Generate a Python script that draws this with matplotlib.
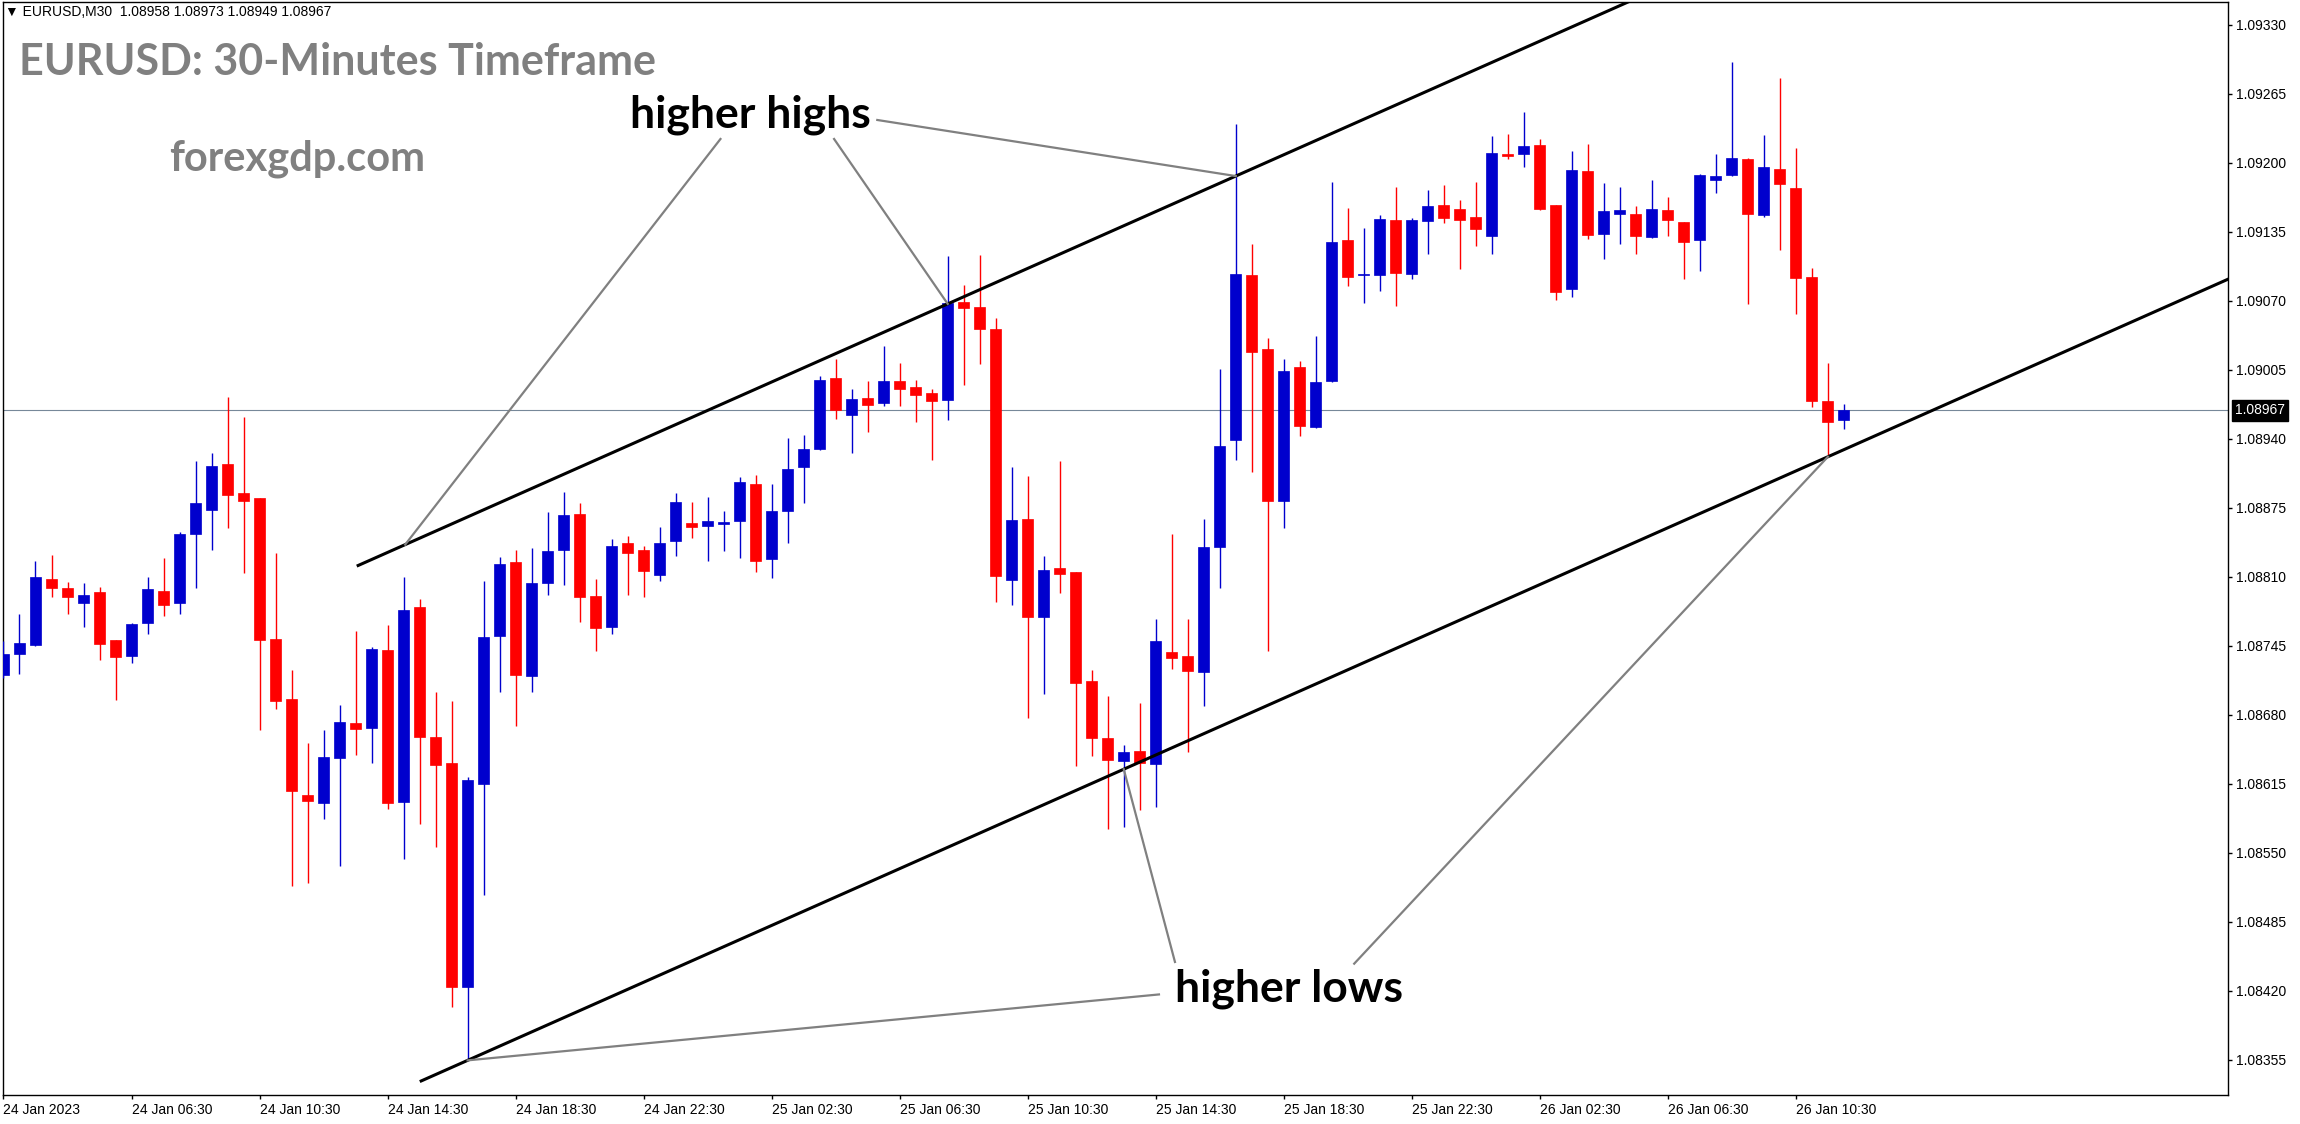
import numpy as np
import matplotlib
matplotlib.use("Agg")
import matplotlib.pyplot as plt

plt.rcParams['font.family'] = ['Liberation Sans', 'DejaVu Sans']

# EURUSD M30 candles, 24 Jan 02:30 .. 26 Jan 12:00
opens = [1.08718, 1.08737, 1.08746, 1.08808, 1.08800, 1.08785, 1.08796, 1.08751, 1.08736, 1.08767,
         1.08797, 1.08785, 1.08850, 1.08873, 1.08916, 1.08889, 1.08884, 1.08752, 1.08695, 1.08605,
         1.08597, 1.08639, 1.08672, 1.08668, 1.08741, 1.08598, 1.08782, 1.08659, 1.08635, 1.08424,
         1.08615, 1.08754, 1.08824, 1.08717, 1.08804, 1.08835, 1.08869, 1.08792, 1.08763, 1.08842,
         1.08835, 1.08812, 1.08844, 1.08861, 1.08858, 1.08860, 1.08863, 1.08898, 1.08827, 1.08872,
         1.08914, 1.08931, 1.08997, 1.08963, 1.08979, 1.08974, 1.08995, 1.08989, 1.08983, 1.08977,
         1.09069, 1.09064, 1.09044, 1.08807, 1.08865, 1.08772, 1.08818, 1.08815, 1.08712, 1.08658,
         1.08637, 1.08646, 1.08634, 1.08739, 1.08736, 1.08720, 1.08838, 1.08939, 1.09094, 1.09025,
         1.08882, 1.09008, 1.08951, 1.08995, 1.09127, 1.09094, 1.09094, 1.09146, 1.09095, 1.09145,
         1.09160, 1.09157, 1.09149, 1.09131, 1.09208, 1.09208, 1.09217, 1.09160, 1.09081, 1.09192,
         1.09133, 1.09152, 1.09152, 1.09130, 1.09156, 1.09144, 1.09127, 1.09184, 1.09189, 1.09204,
         1.09151, 1.09194, 1.09176, 1.09093, 1.08976, 1.08958]
highs = [1.08750, 1.08775, 1.08825, 1.08831, 1.08805, 1.08804, 1.08801, 1.08751, 1.08767, 1.08810,
         1.08828, 1.08852, 1.08919, 1.08927, 1.08980, 1.08961, 1.08884, 1.08833, 1.08722, 1.08654,
         1.08666, 1.08689, 1.08759, 1.08744, 1.08765, 1.08810, 1.08789, 1.08702, 1.08693, 1.08622,
         1.08806, 1.08829, 1.08835, 1.08837, 1.08871, 1.08890, 1.08880, 1.08808, 1.08846, 1.08849,
         1.08839, 1.08857, 1.08889, 1.08881, 1.08885, 1.08872, 1.08904, 1.08906, 1.08898, 1.08941,
         1.08944, 1.08999, 1.09015, 1.08987, 1.08995, 1.09028, 1.09012, 1.08996, 1.08987, 1.09112,
         1.09085, 1.09113, 1.09054, 1.08914, 1.08905, 1.08830, 1.08919, 1.08815, 1.08722, 1.08698,
         1.08652, 1.08691, 1.08770, 1.08850, 1.08770, 1.08865, 1.09006, 1.09237, 1.09124, 1.09035,
         1.09015, 1.09013, 1.09037, 1.09182, 1.09158, 1.09139, 1.09151, 1.09177, 1.09148, 1.09175,
         1.09179, 1.09165, 1.09182, 1.09225, 1.09227, 1.09248, 1.09223, 1.09160, 1.09211, 1.09218,
         1.09181, 1.09177, 1.09159, 1.09184, 1.09168, 1.09144, 1.09190, 1.09208, 1.09295, 1.09205,
         1.09226, 1.09280, 1.09214, 1.09101, 1.09012, 1.08973]
lows = [1.08715, 1.08719, 1.08745, 1.08791, 1.08775, 1.08763, 1.08732, 1.08694, 1.08729, 1.08756,
        1.08773, 1.08775, 1.08800, 1.08835, 1.08856, 1.08814, 1.08666, 1.08686, 1.08519, 1.08522,
        1.08582, 1.08538, 1.08642, 1.08635, 1.08591, 1.08544, 1.08577, 1.08556, 1.08405, 1.08355,
        1.08510, 1.08702, 1.08670, 1.08702, 1.08793, 1.08802, 1.08768, 1.08740, 1.08756, 1.08793,
        1.08791, 1.08806, 1.08830, 1.08847, 1.08825, 1.08834, 1.08828, 1.08815, 1.08809, 1.08842,
        1.08880, 1.08930, 1.08959, 1.08927, 1.08947, 1.08971, 1.08971, 1.08956, 1.08920, 1.08958,
        1.08991, 1.09011, 1.08786, 1.08784, 1.08677, 1.08700, 1.08795, 1.08632, 1.08641, 1.08573,
        1.08574, 1.08590, 1.08593, 1.08723, 1.08645, 1.08688, 1.08800, 1.08920, 1.08909, 1.08740,
        1.08856, 1.08943, 1.08950, 1.08994, 1.09084, 1.09068, 1.09079, 1.09065, 1.09091, 1.09114,
        1.09143, 1.09100, 1.09122, 1.09114, 1.09204, 1.09196, 1.09156, 1.09071, 1.09074, 1.09128,
        1.09110, 1.09124, 1.09114, 1.09129, 1.09131, 1.09091, 1.09098, 1.09172, 1.09188, 1.09067,
        1.09149, 1.09118, 1.09058, 1.08970, 1.08925, 1.08949]
closes = [1.08737, 1.08748, 1.08810, 1.08800, 1.08791, 1.08793, 1.08747, 1.08735, 1.08766, 1.08799,
          1.08784, 1.08850, 1.08880, 1.08915, 1.08887, 1.08882, 1.08751, 1.08693, 1.08608, 1.08599,
          1.08640, 1.08673, 1.08667, 1.08742, 1.08597, 1.08779, 1.08659, 1.08633, 1.08424, 1.08619,
          1.08753, 1.08822, 1.08718, 1.08804, 1.08834, 1.08868, 1.08791, 1.08762, 1.08839, 1.08833,
          1.08816, 1.08842, 1.08881, 1.08857, 1.08863, 1.08862, 1.08899, 1.08825, 1.08872, 1.08912,
          1.08931, 1.08996, 1.08967, 1.08978, 1.08972, 1.08995, 1.08987, 1.08981, 1.08976, 1.09068,
          1.09063, 1.09044, 1.08811, 1.08864, 1.08772, 1.08817, 1.08813, 1.08710, 1.08658, 1.08638,
          1.08645, 1.08635, 1.08750, 1.08734, 1.08721, 1.08838, 1.08933, 1.09095, 1.09022, 1.08882,
          1.09004, 1.08952, 1.08994, 1.09126, 1.09093, 1.09095, 1.09147, 1.09096, 1.09146, 1.09159,
          1.09148, 1.09146, 1.09138, 1.09209, 1.09207, 1.09216, 1.09157, 1.09078, 1.09193, 1.09132,
          1.09155, 1.09156, 1.09131, 1.09157, 1.09146, 1.09126, 1.09189, 1.09188, 1.09205, 1.09152,
          1.09196, 1.09180, 1.09092, 1.08976, 1.08956, 1.08967]

time_labels = ["24 Jan 2023", "24 Jan 06:30", "24 Jan 10:30", "24 Jan 14:30", "24 Jan 18:30",
               "24 Jan 22:30", "25 Jan 02:30", "25 Jan 06:30", "25 Jan 10:30", "25 Jan 14:30",
               "25 Jan 18:30", "25 Jan 22:30", "26 Jan 02:30", "26 Jan 06:30", "26 Jan 10:30"]
price_ticks = [1.09330, 1.09265, 1.09200, 1.09135, 1.09070, 1.09005, 1.08940, 1.08875,
               1.08810, 1.08745, 1.08680, 1.08615, 1.08550, 1.08485, 1.08420, 1.08355]

last_price = 1.08967
header = "\u25bc EURUSD,M30  1.08958 1.08973 1.08949 1.08967"

# channel: start anchors (bar index, price) and common slope per bar
upper_start = (22.16, 1.088208)
lower_start = (26.1, 1.083352)
slope = 0.0000669

def upper(b):
    return upper_start[1] + (b - upper_start[0]) * slope

def lower(b):
    return lower_start[1] + (b - lower_start[0]) * slope

fig = plt.figure(figsize=(23, 11.24), dpi=100)
ax = fig.add_axes([0.00117, 0.0258, 0.96753, 0.97242])

o = np.array(opens)
h = np.array(highs)
l = np.array(lows)
c = np.array(closes)
x = np.arange(len(o))
cols = np.where(c > o, '#0000CD', '#FF0000')

ax.axhline(last_price, color='#778899', lw=0.8, zorder=1)
ax.vlines(x, l, h, colors=cols, lw=1.0, zorder=3)
ax.bar(x, np.abs(c - o), bottom=np.minimum(o, c), width=0.69, color=cols,
       edgecolor=cols, linewidth=0.5, zorder=4)

# channel lines
xu = np.array([upper_start[0], 200])
xl = np.array([lower_start[0], 200])
ax.plot(xu, upper(xu), color='black', lw=2.2, zorder=6)
ax.plot(xl, lower(xl), color='black', lw=2.2, zorder=6)

# annotations
grey = '#808080'
hh_starts = [(44.8, 1.092226), (51.9, 1.092226), (54.6, 1.092405)]
hh_ends = [25.1, 59.0, 77.0]
for (sx, sy), ex in zip(hh_starts, hh_ends):
    ax.plot([sx, ex], [sy, upper(ex)], color=grey, lw=1.6, zorder=7)
hl_starts = [(72.2, 1.084167), (73.2, 1.084473), (84.4, 1.084457)]
hl_ends = [29.0, 70.0, 114.0]
for (sx, sy), ex in zip(hl_starts, hl_ends):
    ax.plot([sx, ex], [sy, lower(ex)], color=grey, lw=1.6, zorder=7)

ax.text(46.7, 1.092452, "higher highs", fontsize=32, fontweight='bold', family=['Lato', 'DejaVu Sans'],
        ha='center', va='center', zorder=8)
ax.text(80.3, 1.084223, "higher lows", fontsize=32, fontweight='bold', family=['Lato', 'DejaVu Sans'],
        ha='center', va='center', zorder=8)

fig.text(19 / 2300, 1 - 75 / 1124, "EURUSD: 30-Minutes Timeframe", fontsize=31, fontweight='bold',
         family=['Lato', 'DejaVu Sans'], color=grey, va='baseline')
fig.text(169 / 2300, 1 - 171 / 1124, "forexgdp.com", fontsize=30, fontweight='bold',
         family=['Lato', 'DejaVu Sans'], color=grey, va='baseline')
fig.text(5 / 2300, 1 - 12 / 1124, header, fontsize=10, va='center')

ax.set_xlim(-0.05, 139.0)
ax.set_ylim(1.0832197, 1.0935165)

ax.yaxis.tick_right()
ax.set_yticks(price_ticks)
ax.set_yticklabels([f"{p:.5f}" for p in price_ticks])
ax.set_xticks(x[::8][:len(time_labels)])
ax.set_xticklabels(time_labels, ha='left')
ax.tick_params(axis='y', direction='out', length=3, width=1, pad=3, labelsize=10)
ax.tick_params(axis='x', direction='out', length=3, width=1, pad=3, labelsize=10)
for s in ax.spines.values():
    s.set_color('black')
    s.set_linewidth(1)

ax.annotate(f"{last_price:.5f}", xy=(1, last_price), xycoords=('axes fraction', 'data'),
            xytext=(7, 0), textcoords='offset pixels', color='white', fontsize=10,
            ha='left', va='center', annotation_clip=False,
            bbox=dict(boxstyle='square,pad=0.25', fc='black', ec='black'))

fig.savefig('out.png', dpi=100)
